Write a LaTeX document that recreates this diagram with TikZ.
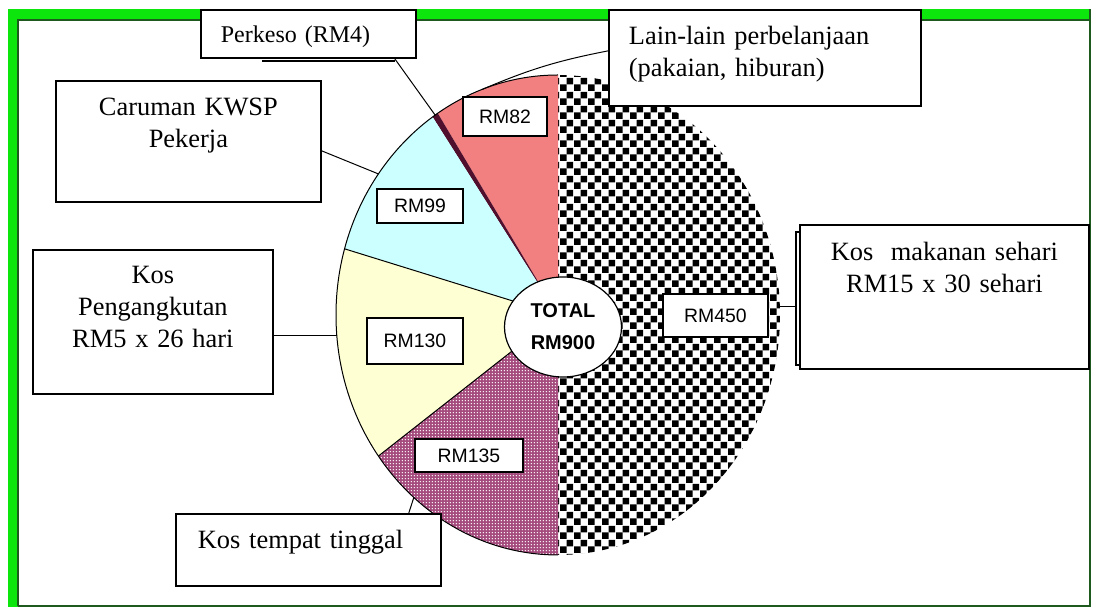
\documentclass[tikz,border=0pt]{standalone}
\usepackage{fontspec}
\setmainfont{Liberation Serif}
\setsansfont{Liberation Sans}
\usepackage{tikz}
\usetikzlibrary{shapes.geometric,patterns.meta}

\definecolor{framegreen}{RGB}{12,230,12}
\definecolor{framedark}{RGB}{30,90,30}
\definecolor{pinkfill}{RGB}{242,128,128}
\definecolor{cyanfill}{RGB}{204,255,255}
\definecolor{creamfill}{RGB}{255,255,212}
\definecolor{purplefill}{RGB}{165,75,125}
\definecolor{darkslice}{RGB}{80,15,45}

\tikzdeclarepattern{
	name=checks,
	type=uncolored,
	bottom left={(0pt,0pt)},
	top right={(7pt,7pt)},
	tile size={(7pt,7pt)},
	code={
		\fill (0pt,0pt) rectangle (3.5pt,3.5pt);
		\fill (3.5pt,3.5pt) rectangle (7pt,7pt);
	}
}
\tikzdeclarepattern{
	name=fine dots,
	type=uncolored,
	bottom left={(0pt,0pt)},
	top right={(1.6pt,1.6pt)},
	tile size={(1.6pt,1.6pt)},
	code={
		\fill (0.8pt,0.8pt) circle (0.45pt);
	}
}

\begin{document}
\begin{tikzpicture}[x=0.5pt,y=0.5pt]
					\tikzstyle{box}=[draw=black,line width=0.9pt,fill=white,inner xsep=10pt,inner ysep=0pt,anchor=north west,font=\fontsize{13.2}{16}\selectfont]
					\tikzstyle{tag}=[draw=black,line width=0.8pt,fill=white,inner sep=0pt,font=\sffamily\fontsize{9.7}{11}\selectfont]
					\tikzstyle{leader}=[draw=black,line width=0.5pt]
					\useasboundingbox (0,0) rectangle (1100,609);
					\fill[framegreen] (8,2) rectangle (1091,600);
					\fill[white] (18,3) rectangle (1090,589);
					\draw[framedark,line width=0.8pt] (18,3) -- (18,589) -- (1090,589);
					\draw[framedark,line width=0.8pt] (18,3) -- (1090,3) -- (1090,600);
					\coordinate (o) at (558,294);
					\path[pattern=checks] (o) -- ++(90:222 and 240) arc[start angle=90,end angle=-90,x radius=222,y radius=240] -- cycle;
					\fill[pinkfill] (o) -- ++(90:222 and 240) arc[start angle=90,end angle=122.8,x radius=222,y radius=240] -- cycle;
					\fill[darkslice] (o) -- ++(122.8:222 and 240) arc[start angle=122.8,end angle=124.4,x radius=222,y radius=240] -- cycle;
					\fill[cyanfill] (o) -- ++(124.4:222 and 240) arc[start angle=124.4,end angle=164,x radius=222,y radius=240] -- cycle;
					\fill[creamfill] (o) -- ++(164:222 and 240) arc[start angle=164,end angle=216,x radius=222,y radius=240] -- cycle;
					\fill[purplefill,postaction={pattern=fine dots,pattern color=white}] (o) -- ++(216:222 and 240) arc[start angle=216,end angle=270,x radius=222,y radius=240] -- cycle;
					\draw[line width=0.5pt] (o) ++(90:222 and 240) arc[start angle=90,end angle=270,x radius=222,y radius=240];
					\draw[line width=0.5pt] (o) -- ++(164:222 and 240);
					\draw[line width=0.5pt] (o) -- ++(216:222 and 240);
					\path (o) ++(123.6:222 and 240) coordinate (a);
					\path (o) ++(110:222 and 240) coordinate (b);
					\path (o) ++(144:222 and 240) coordinate (c);
					\path (o) ++(185:222 and 240) coordinate (d);
					\path (o) ++(229.5:222 and 240) coordinate (e);
					\path (o) ++(2:222 and 240) coordinate (f);
					\node[box,text width=87.5pt,text height=16.5pt,text depth=7.5pt,align=left,font=\fontsize{12}{14}\selectfont] (1) at (200,600) {Perkeso (RM4)};
					\node[box,text width=136pt,text height=17.5pt,text depth=30.5pt,align=left] (2) at (608,600) {Lain-lain perbelanjaan\\(pakaian, hiburan)};
					\node[box,text width=112.5pt,text height=17.5pt,text depth=43pt,align=center] (3) at (55,529) {Caruman KWSP\\Pekerja};
					\node[box,text width=100pt,text height=17pt,text depth=55pt,align=center] (4) at (32,360) {Kos\\Pengangkutan\\RM5 x 26 hari};
					\node[box,text width=110.5pt,inner xsep=11pt,text height=17.5pt,text depth=18.5pt,align=left] (5) at (175,96) {Kos tempat tinggal};
					\node[box,text width=124.5pt,text height=18pt,text depth=54pt,align=center] (6) at (799,385) {Kos~ makanan sehari\\RM15 x 30 sehari};
					\node[tag,minimum width=42pt,minimum height=19.5pt] (7) at (505,492.5) {RM82};
					\node[tag,minimum width=43pt,minimum height=17pt] (8) at (420,403) {RM99};
					\node[tag,minimum width=48pt,minimum height=23pt] (9) at (415,268) {RM130};
					\node[tag,minimum width=54pt,minimum height=16.5pt] (10) at (469,153.5) {RM135};
					\node[tag,minimum width=52.5pt,minimum height=21.5pt] (11) at (715.5,293.5) {RM450};
					\node[ellipse,draw=black,line width=0.6pt,fill=white,minimum width=58.5pt,minimum height=50pt,inner sep=0pt,align=center,font=\sffamily\bfseries\fontsize{10}{16}\selectfont] (12) at (563,282) {TOTAL\\RM900};
					\coordinate (g) at ([xshift=-1.5pt]6.west);
					\draw[leader] (a) -- ([xshift=-11pt]1.south east);
					\draw[leader] (b) to[bend left=6] ([yshift=3.5pt]2.west);
					\draw[leader] (c) -- ([yshift=-4.75pt]3.east);
					\draw[leader] (d) -- (d -| 4.east);
					\draw[leader] (e) -- ([xshift=-16.5pt]5.north east);
					\draw[leader] (f) -- (f -| g);
					\draw[line width=0.8pt] ([yshift=-4pt]6.north west) -- ++(-1.5pt,0pt) |- ([yshift=2.5pt]6.south west);
					\draw[line width=1pt] ([xshift=31pt,yshift=-1pt]1.south west) -- ([xshift=-11pt,yshift=-1pt]1.south east);
					\end{tikzpicture}
\end{document}
